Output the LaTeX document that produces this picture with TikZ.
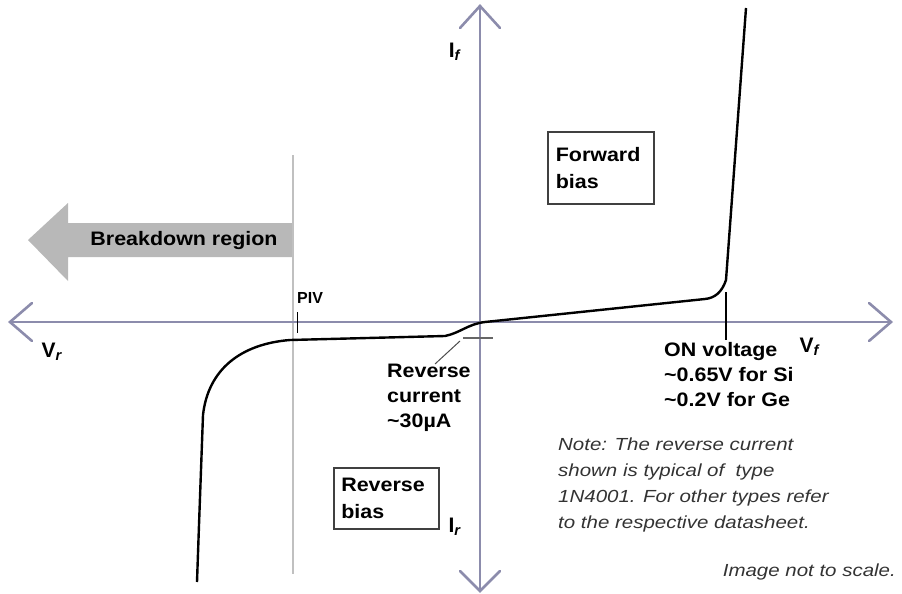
\documentclass[tikz,border=0pt]{standalone}
\usepackage{fontspec}
\setmainfont{Liberation Sans}
\definecolor{axiscol}{RGB}{140,140,172}
\definecolor{pivcol}{RGB}{192,192,192}
\definecolor{bdcol}{RGB}{184,184,184}
\tikzset{
  axisline/.style={draw=axiscol, line width=2.6pt, line cap=round},
  lbl/.style={font=\bfseries\fontsize{19.5}{25}\selectfont\addfontfeature{FakeStretch=1.1}, inner sep=0pt, align=left},
  notetxt/.style={font=\itshape\fontsize{17.5}{26}\selectfont\addfontfeature{FakeStretch=1.17}, text=black!80, inner sep=0pt, align=left},
  biasbox/.style={draw=black!75, line width=1.6pt, inner sep=0pt, minimum width=106pt, font=\bfseries\fontsize{19.5}{27}\selectfont\addfontfeature{FakeStretch=1.1}, align=left, text width=92pt},
  sublbl/.style={font=\bfseries\fontsize{21}{25}\selectfont, inner sep=0pt},
  curve/.style={line width=2.4pt, line join=round}
}
\begin{document}
\begin{tikzpicture}[x=1pt,y=-1pt]
\useasboundingbox (0,0) rectangle (902,594);
% breakdown arrow
\fill[bdcol] (293,223) -- (68,223) -- (68,203) -- (28,240) -- (68,281) -- (68,257) -- (293,257) -- cycle;
\node[lbl] (bd) at (184,240) {Breakdown region};
% PIV line
\coordinate (pivtop) at (293,155);
\coordinate (pivbot) at (293,574);
\draw[pivcol, line width=2pt] (pivtop) -- (pivbot);
% axes
\coordinate (xl) at (10,322);
\coordinate (xr) at (891,322);
\coordinate (yt) at (480,6);
\coordinate (yb) at (480,591);
\draw[axisline] (xl) -- (xr);
\draw[axisline] (yt) -- (yb);
\draw[axisline] ([shift={(22,-19)}]xl) -- (xl) -- ([shift={(22,19)}]xl);
\draw[axisline] ([shift={(-22,-19)}]xr) -- (xr) -- ([shift={(-22,19)}]xr);
\draw[axisline] ([shift={(-20,22)}]yt) -- (yt) -- ([shift={(20,22)}]yt);
\draw[axisline] ([shift={(-20,-20)}]yb) -- (yb) -- ([shift={(20,-20)}]yb);
% curve
\draw[curve] (197,582) -- (199,525) -- (201,470) -- (203,415) .. controls (208,370) and (240,344) .. (290,340) -- (445,336) .. controls (460,333) and (468,324) .. (485,322) -- (705,299) .. controls (715,298) and (722,292) .. (726,280) -- (746,8);
% ticks
\coordinate (pivt1) at (297,312);
\coordinate (pivt2) at (297,333);
\draw[line width=1pt] (pivt1) -- (pivt2);
\coordinate (ont1) at (726,292);
\coordinate (ont2) at (726,340);
\draw[line width=1.2pt] (ont1) -- (ont2);
% reverse current marker
\coordinate (rc1) at (463,338);
\coordinate (rc2) at (493,338);
\draw[black!60, line width=1.6pt] (rc1) -- (rc2);
\coordinate (ld1) at (460,341);
\coordinate (ld2) at (435,364);
\draw[black!70, line width=1pt] (ld1) -- (ld2);
% labels
\node[inner sep=0pt, font=\bfseries\fontsize{16}{18}\selectfont, anchor=west] (piv) at (297,298) {PIV};
\node[lbl, anchor=north west] (rc) at (387,364) {Reverse\\current\\\textasciitilde 30µA};
\node[lbl, anchor=north west] (on) at (664,342) {ON voltage\\\textasciitilde 0.65V for Si\\\textasciitilde 0.2V for Ge};
\node[sublbl] (vf) at (810,347) {V\textsubscript{\textit{f}}};
\node[sublbl] (vr) at (52,352) {V\textsubscript{\textit{r}}};
\node[sublbl] (if) at (455,52) {I\textsubscript{\textit{f}}};
\node[sublbl] (ir) at (455,527) {I\textsubscript{\textit{r}}};
% boxes
\node[biasbox, minimum height=72pt, anchor=north west] (fb) at (547,131) {\hspace*{1pt}Forward\\\hspace*{1pt}bias};
\node[biasbox, minimum width=105pt, minimum height=61pt, anchor=north west] (rb) at (333,467) {\hspace*{1pt}Reverse\\\hspace*{1pt}bias};
% note
\node[notetxt, anchor=north west] (note) at (558,438) {Note: The reverse current\\shown is typical of \ type\\1N4001. For other types refer\\to the respective datasheet.};
\node[notetxt, anchor=east] (scale) at (896,572) {Image not to scale.};
\end{tikzpicture}
\end{document}
